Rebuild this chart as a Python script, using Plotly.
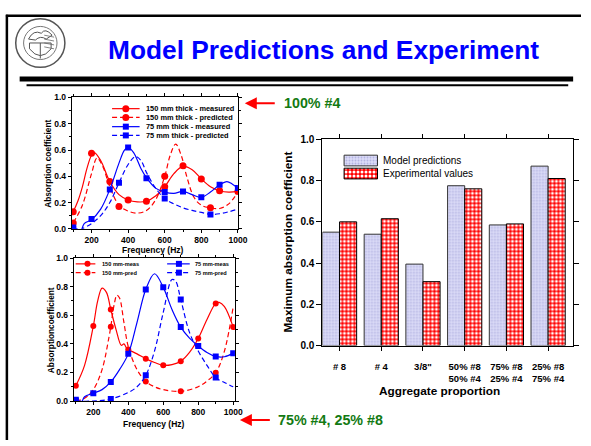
import plotly.graph_objects as go

W, H = 591, 446
FONT = "Liberation Sans, Arial, sans-serif"
RED = "#ff0000"
BLUE = "#0000ff"
GREEN = "#137a13"

# ---------------- Panel A: 100% #4 aggregate ----------------
a_m150_f = [100, 200, 300, 400, 500, 600, 700, 800, 900, 1000]
a_m150_v = [0.13, 0.575, 0.36, 0.22, 0.21, 0.32, 0.48, 0.38, 0.29, 0.285]
a_m150_cf = [100, 125, 150, 175, 200, 215, 250, 300, 350, 400, 450, 500, 550, 600,
             650, 700, 750, 800, 850, 900, 950, 1000]
a_m150_cv = [0.13, 0.21, 0.32, 0.46, 0.56, 0.58, 0.52, 0.36, 0.26, 0.22, 0.205, 0.21,
             0.25, 0.32, 0.42, 0.475, 0.45, 0.38, 0.32, 0.29, 0.28, 0.285]

a_p150_f = [100, 350, 600, 850]
a_p150_v = [0.045, 0.17, 0.40, 0.16]
a_p150_cf = [100, 150, 200, 230, 260, 300, 350, 400, 450, 500, 550, 600, 630, 660,
             690, 720, 760, 800, 850, 900, 950, 1000]
a_p150_cv = [0.045, 0.18, 0.42, 0.54, 0.48, 0.32, 0.18, 0.135, 0.12, 0.14, 0.22, 0.40,
             0.56, 0.645, 0.56, 0.40, 0.24, 0.18, 0.16, 0.155, 0.19, 0.28]

a_m75_f = [100, 200, 300, 400, 500, 600, 700, 800, 900, 1000]
a_m75_v = [0.01, 0.075, 0.30, 0.62, 0.385, 0.28, 0.285, 0.24, 0.335, 0.31]
a_m75_cf = [100, 120, 140, 160, 200, 250, 300, 350, 380, 400, 430, 470, 500, 550, 600,
            650, 700, 750, 800, 850, 900, 940, 970, 1000]
a_m75_cv = [0.01, 0.0, -0.02, 0.04, 0.07, 0.15, 0.30, 0.50, 0.60, 0.62, 0.58, 0.46,
            0.39, 0.31, 0.28, 0.27, 0.285, 0.26, 0.24, 0.28, 0.335, 0.36, 0.34, 0.31]

a_p75_f = [100, 350, 600, 850]
a_p75_v = [0.0, 0.35, 0.23, 0.11]
a_p75_cf = [100, 130, 150, 200, 250, 300, 350, 400, 440, 470, 500, 550, 600, 650,
            700, 750, 800, 850, 900, 950, 1000]
a_p75_cv = [0.0, -0.02, 0.0, 0.04, 0.10, 0.20, 0.35, 0.49, 0.55, 0.52, 0.43, 0.31,
            0.23, 0.19, 0.16, 0.14, 0.125, 0.11, 0.115, 0.13, 0.15]

# ---------------- Panel B: 75% #4, 25% #8 ----------------
b_m150_f = [100, 200, 300, 400, 500, 600, 700, 800, 900, 1000]
b_m150_v = [0.107, 0.524, 0.64, 0.36, 0.296, 0.25, 0.278, 0.437, 0.683, 0.517]
b_m150_cf = [100, 150, 200, 225, 250, 275, 300, 330, 360, 375, 390, 400, 450, 500,
             550, 600, 650, 700, 750, 800, 850, 900, 920, 950, 1000]
b_m150_cv = [0.107, 0.25, 0.524, 0.70, 0.79, 0.76, 0.64, 0.50, 0.39, 0.40, 0.37, 0.36,
             0.33, 0.296, 0.27, 0.25, 0.255, 0.278, 0.34, 0.437, 0.57, 0.683, 0.69,
             0.66, 0.517]

b_p150_f = [300, 500, 700, 900]
b_p150_v = [0.52, 0.137, 0.068, 0.198]
b_p150_cf = [100, 150, 200, 250, 290, 300, 320, 335, 350, 375, 400, 450, 500, 550,
             600, 700, 800, 850, 900, 950, 1000]
b_p150_cv = [0.0, 0.02, 0.08, 0.22, 0.45, 0.52, 0.68, 0.74, 0.72, 0.55, 0.38, 0.22,
             0.137, 0.10, 0.08, 0.068, 0.10, 0.14, 0.198, 0.35, 0.66]

b_m75_f = [100, 200, 300, 400, 500, 600, 700, 800, 900, 1000]
b_m75_v = [0.01, 0.055, 0.134, 0.33, 0.78, 0.795, 0.517, 0.385, 0.312, 0.335]
b_m75_cf = [100, 130, 150, 200, 250, 300, 350, 400, 450, 500, 550, 600, 650, 700,
            750, 800, 850, 900, 950, 1000]
b_m75_cv = [0.01, -0.01, 0.03, 0.055, 0.08, 0.134, 0.22, 0.33, 0.55, 0.78, 0.89,
            0.795, 0.64, 0.517, 0.44, 0.385, 0.34, 0.312, 0.31, 0.335]

b_p75_f = [100, 300, 500, 700, 900]
b_p75_v = [0.0, 0.015, 0.18, 0.71, 0.164]
b_p75_cf = [100, 200, 300, 400, 450, 500, 550, 600, 650, 670, 700, 750, 800, 850,
            900, 950, 1000]
b_p75_cv = [0.0, 0.0, 0.015, 0.06, 0.10, 0.18, 0.35, 0.62, 0.85, 0.84, 0.71, 0.48,
            0.35, 0.25, 0.164, 0.13, 0.10]

# ---------------- Panel C: maximum absorption by aggregate mix ----------------
mix_labels = ["# 8", "# 4", "3/8\"", "50% #8<br>50% #4", "75% #8<br>25% #4",
              "25% #8<br>75% #4"]
model_max = [0.55, 0.54, 0.395, 0.775, 0.585, 0.87]
exp_max = [0.60, 0.615, 0.31, 0.76, 0.59, 0.81]

fig = go.Figure()


def add_series(xa, ya, cf, cv, f, v, color, dash, symbol, size):
    fig.add_trace(go.Scatter(x=cf, y=cv, mode="lines", xaxis=xa, yaxis=ya,
                             line=dict(color=color, width=1.2, dash=dash,
                                       shape="spline", smoothing=1.0),
                             hoverinfo="skip", showlegend=False))
    fig.add_trace(go.Scatter(x=f, y=v, mode="markers", xaxis=xa, yaxis=ya,
                             marker=dict(color=color, symbol=symbol, size=size,
                                         line=dict(width=0)),
                             showlegend=False))


DASH = "5px,3px"
add_series("x", "y", a_m150_cf, a_m150_cv, a_m150_f, a_m150_v, RED, "solid", "circle", 7)
add_series("x", "y", a_p150_cf, a_p150_cv, a_p150_f, a_p150_v, RED, DASH, "circle", 7)
add_series("x", "y", a_m75_cf, a_m75_cv, a_m75_f, a_m75_v, BLUE, "solid", "square", 6)
add_series("x", "y", a_p75_cf, a_p75_cv, a_p75_f, a_p75_v, BLUE, DASH, "square", 6)

add_series("x2", "y2", b_m150_cf, b_m150_cv, b_m150_f, b_m150_v, RED, "solid", "circle", 6)
add_series("x2", "y2", b_p150_cf, b_p150_cv, b_p150_f, b_p150_v, RED, DASH, "circle", 6)
add_series("x2", "y2", b_m75_cf, b_m75_cv, b_m75_f, b_m75_v, BLUE, "solid", "square", 6)
add_series("x2", "y2", b_p75_cf, b_p75_cv, b_p75_f, b_p75_v, BLUE, DASH, "square", 6)

MODEL_MARKER = dict(color="#dadaf7", line=dict(color="#333333", width=1),
                    pattern=dict(shape=".", fgcolor="#b4b4e2", bgcolor="#dcdcf8",
                                 size=3, solidity=0.3, fillmode="replace"))
EXP_MARKER = dict(color="#ff0000", line=dict(color="#000000", width=1),
                  pattern=dict(shape=".", fgcolor="#ffffff", bgcolor="#ff0000",
                               size=4, solidity=0.45, fillmode="replace"))

fig.add_trace(go.Bar(x=mix_labels, y=model_max, name="Model predictions",
                     xaxis="x3", yaxis="y3", marker=MODEL_MARKER, showlegend=False))
fig.add_trace(go.Bar(x=mix_labels, y=exp_max, name="Experimental values",
                     xaxis="x3", yaxis="y3", marker=EXP_MARKER, showlegend=False))

# ---------- hand-built keys, placed on a pixel overlay (x4/y4) ----------
shapes = []
annotations = []


def key_line(x0, x1, y, color, dash):
    shapes.append(dict(type="line", xref="x4", yref="y4", x0=x0, x1=x1, y0=y, y1=y,
                       line=dict(color=color, width=1.2, dash=dash)))


def key_text(x, y, text, size):
    annotations.append(dict(xref="x4", yref="y4", x=x, y=y, text=text, showarrow=False,
                            xanchor="left", yanchor="middle",
                            font=dict(family=FONT, size=size, color="black",
                                      weight="bold")))


key_a = [("150 mm thick - measured", RED, "solid", "circle", 7),
         ("150 mm thick - predicted", RED, DASH, "circle", 7),
         ("75 mm thick - measured", BLUE, "solid", "square", 6),
         ("75 mm thick - predicted", BLUE, DASH, "square", 6)]
key_a_rows = [105.5, 114.5, 124, 133]
for (txt, col, dsh, sym, sz), yy in zip(key_a, key_a_rows):
    key_line(114, 142, yy, col, dsh)
    fig.add_trace(go.Scatter(x=[128], y=[yy], mode="markers", xaxis="x4", yaxis="y4",
                             marker=dict(color=col, symbol=sym, size=sz),
                             hoverinfo="skip", showlegend=False))
    key_text(146, yy, txt, 7.4)

key_b = [("150 mm-meas", RED, "solid", "circle", 77, 97, 89, 102, 265),
         ("150 mm-pred", RED, DASH, "circle", 77, 97, 89, 102, 274),
         ("75 mm-meas", BLUE, "solid", "square", 170, 193, 182, 196, 265),
         ("75 mm-pred", BLUE, DASH, "square", 170, 193, 182, 196, 274)]
for txt, col, dsh, sym, lx0, lx1, mx, tx, yy in key_b:
    key_line(lx0, lx1, yy, col, dsh)
    fig.add_trace(go.Scatter(x=[mx], y=[yy], mode="markers", xaxis="x4", yaxis="y4",
                             marker=dict(color=col, symbol=sym, size=6),
                             hoverinfo="skip", showlegend=False))
    key_text(tx, yy, txt, 5.6)

# bar-chart key swatches
for yy, mk in [(158.8, MODEL_MARKER), (172.2, EXP_MARKER)]:
    fig.add_trace(go.Bar(y=[yy], x=[34], base=[350], orientation="h", width=[11],
                         offset=-5.5, xaxis="x4", yaxis="y4", marker=mk,
                         hoverinfo="skip", showlegend=False))
for yy, txt in [(158.8, "Model predictions"), (172.2, "Experimental values")]:
    annotations.append(dict(xref="x4", yref="y4", x=388, y=yy, text=txt,
                            showarrow=False, xanchor="left", yanchor="middle",
                            font=dict(family=FONT, size=10, color="black")))


# axis titles
def title_ann(x, y, text, size, angle=0):
    annotations.append(dict(xref="x4", yref="y4", x=x, y=y, text=text, showarrow=False,
                            textangle=angle, xanchor="center", yanchor="middle",
                            font=dict(family=FONT, size=size, color="black",
                                      weight="bold")))


title_ann(156, 251, "Frequency (Hz)", 8.5)
title_ann(48, 162, "Absorption coefficient", 8.3, -90)
title_ann(157, 429.5, "Frequency (Hz)", 8.5)
title_ann(52, 333, "Absorptioncoefficient", 8.3, -90)
title_ann(447, 396, "Aggregate proportion", 11.8)
title_ann(293, 243, "Maximum absorption coefficient", 11.8, -90)

# slide title
annotations.append(dict(xref="x4", yref="y4", x=329, y=45,
                        text="Model Predictions and Experiment", showarrow=False,
                        xanchor="center", yanchor="middle",
                        font=dict(family=FONT, size=26.3, color="#0000ff",
                                  weight="bold")))

# call-outs
for tip_x, tail_x, yy, tx, txt in [(249, 281, 100, 287, "100% #4"),
                                   (244, 276, 425.5, 281, "75% #4, 25% #8")]:
    annotations.append(dict(xref="x4", yref="y4", x=tip_x, y=yy, ax=tail_x, ay=yy,
                            axref="x4", ayref="y4", text="", showarrow=True,
                            arrowhead=2, arrowsize=1.2, arrowwidth=2, arrowcolor=RED))
    annotations.append(dict(xref="x4", yref="y4", x=tx, y=yy, text=txt, showarrow=False,
                            xanchor="left", yanchor="middle",
                            font=dict(family=FONT, size=14.3, color=GREEN,
                                      weight="bold")))

# slide frame and rules
shapes += [
    dict(type="line", xref="x4", yref="y4", x0=7, x1=7, y0=9, y1=446,
         line=dict(color="black", width=2.5)),
    dict(type="line", xref="x4", yref="y4", x0=6, x1=591, y0=10, y1=10,
         line=dict(color="black", width=2.5)),
    dict(type="rect", xref="x4", yref="y4", x0=20, x1=583, y0=72.5, y1=77.5,
         fillcolor="black", line=dict(width=0)),
    dict(type="rect", xref="x4", yref="y4", x0=27, x1=578, y0=80.5, y1=82.5,
         fillcolor="black", line=dict(width=0)),
]

# emblem
shapes += [
    dict(type="circle", xref="x4", yref="y4", x0=16, x1=66, y0=13, y1=63,
         line=dict(color="#555555", width=1.5)),
    dict(type="circle", xref="x4", yref="y4", x0=24, x1=58, y0=21, y1=55,
         line=dict(color="#777777", width=1)),
    dict(type="path", xref="x4", yref="y4",
         path="M 30 44 Q 41 58 52 44 L 52 38 L 30 38 Z",
         line=dict(color="#555555", width=1)),
    dict(type="line", xref="x4", yref="y4", x0=41, x1=41, y0=38, y1=54,
         line=dict(color="#555555", width=1)),
    dict(type="path", xref="x4", yref="y4",
         path="M 29 34 Q 34 24 42 28 Q 46 22 53 30 L 47 34 Q 41 30 36 35 Z",
         line=dict(color="#555555", width=1)),
]
for yy in [30, 34, 38, 42]:
    shapes.append(dict(type="line", xref="x4", yref="y4", x0=45, x1=55, y0=yy, y1=yy + 2,
                       line=dict(color="#666666", width=0.8)))

small_axis = dict(showline=True, linecolor="black", linewidth=1, mirror="allticks",
                  ticks="outside", ticklen=3, tickwidth=1, tickcolor="black",
                  showgrid=False, zeroline=False,
                  tickfont=dict(family=FONT, size=8.5, color="black", weight="bold"))

fig.update_layout(
    width=W, height=H, autosize=False,
    margin=dict(l=0, r=0, t=0, b=0, pad=0),
    paper_bgcolor="white", plot_bgcolor="rgba(0,0,0,0)",
    barmode="group", bargap=0.18, bargroupgap=0.0,
    showlegend=False,
    xaxis=dict(domain=[73 / W, 242 / W], range=[92, 1000], anchor="y",
               tickvals=[200, 400, 600, 800, 1000],
               minor=dict(tickvals=[100, 300, 500, 700, 900], ticklen=2,
                          ticks="outside", tickcolor="black"),
               **small_axis),
    yaxis=dict(domain=[1 - 229 / H, 1 - 94 / H], range=[0, 1], anchor="x",
               dtick=0.2, tickformat=".1f",
               minor=dict(dtick=0.1, ticklen=2, ticks="outside", tickcolor="black"),
               **small_axis),
    xaxis2=dict(domain=[75 / W, 239 / W], range=[88, 1010], anchor="y2",
                tickvals=[200, 400, 600, 800, 1000],
                minor=dict(tickvals=[100, 300, 500, 700, 900], ticklen=2,
                           ticks="outside", tickcolor="black"),
                **small_axis),
    yaxis2=dict(domain=[1 - 406 / H, 1 - 259 / H], range=[0, 1], anchor="x2",
                dtick=0.2, tickformat=".1f",
                minor=dict(dtick=0.1, ticklen=2, ticks="outside", tickcolor="black"),
                **small_axis),
    xaxis3=dict(domain=[328 / W, 583 / W], range=[-0.41, 5.6], anchor="y3",
                type="category", showline=True, linecolor="black", linewidth=1.2,
                mirror="allticks", ticks="outside", ticklen=4, tickcolor="black",
                showgrid=False, zeroline=False, ticklabelstandoff=8,
                tickfont=dict(family=FONT, size=9.5, color="black", weight="bold")),
    yaxis3=dict(domain=[1 - 349 / H, 1 - 137 / H], range=[0, 1], anchor="x3",
                dtick=0.2, tickformat=".1f", showline=True, linecolor="black",
                linewidth=1.2, mirror="allticks", ticks="outside", ticklen=5,
                tickcolor="black", showgrid=False, zeroline=False,
                tickfont=dict(family=FONT, size=10, color="black", weight="bold")),
    xaxis4=dict(domain=[0, 1], range=[0, W], visible=False, fixedrange=True,
                anchor="y4"),
    yaxis4=dict(domain=[0, 1], range=[H, 0], visible=False, fixedrange=True,
                anchor="x4"),
    shapes=shapes,
    annotations=annotations,
)

fig.write_html("out.html")
